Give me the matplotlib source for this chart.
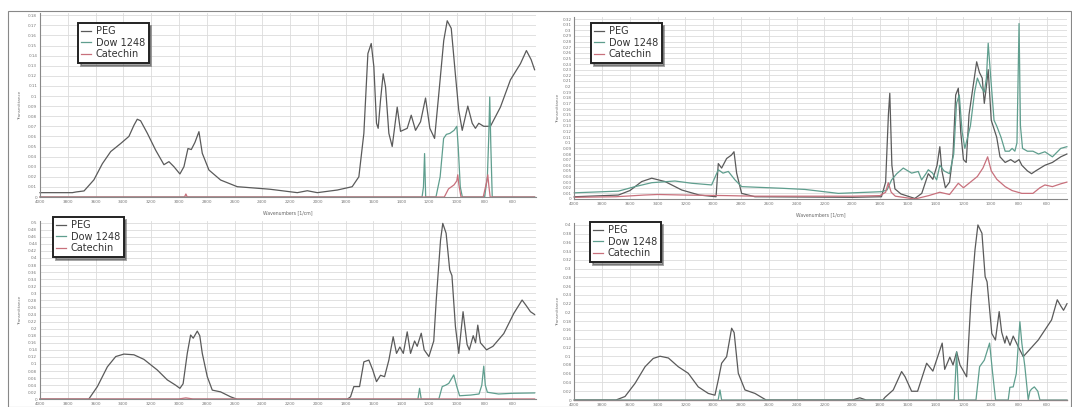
import matplotlib
matplotlib.use("Agg")
import matplotlib.pyplot as plt
from matplotlib.patches import Rectangle
from matplotlib.ticker import MultipleLocator, FuncFormatter

# ---------------- data ----------------
series_names = ["PEG", "Dow 1248", "Catechin"]

# top-left panel
tl_peg_wn = [4000, 3767, 3740, 3683, 3612, 3551, 3491, 3419, 3360, 3324, 3300, 3276, 3227, 3168, 3108, 3072, 3036, 2993, 2964, 2935,
             2911, 2885, 2856, 2832, 2784, 2700, 2580, 2364, 2340, 2148, 2076, 2004, 1860, 1753, 1705, 1669, 1640, 1616, 1597, 1578,
             1566, 1549, 1530, 1513, 1489, 1465, 1429, 1405, 1357, 1328, 1297, 1261, 1225, 1194, 1160, 1129, 1094, 1069, 1040, 1010,
             986, 961, 921, 889, 866, 842, 806, 758, 686, 614, 542, 499, 465, 440]
tl_peg_t = [0.0043, 0.0043, 0.005, 0.006, 0.017, 0.033, 0.045, 0.053, 0.060, 0.071, 0.077, 0.0755, 0.063, 0.0465, 0.032, 0.035, 0.030, 0.0228, 0.030, 0.048,
            0.047, 0.054, 0.0647, 0.0433, 0.0267, 0.0168, 0.0102, 0.0079, 0.0076, 0.0043, 0.0062, 0.0043, 0.0069, 0.0102, 0.020, 0.063, 0.142, 0.152, 0.129, 0.073,
            0.068, 0.096, 0.122, 0.109, 0.063, 0.050, 0.089, 0.065, 0.068, 0.081, 0.066, 0.0745, 0.098, 0.068, 0.058, 0.103, 0.155, 0.1745, 0.167, 0.121,
            0.086, 0.066, 0.090, 0.073, 0.068, 0.073, 0.070, 0.070, 0.089, 0.116, 0.132, 0.145, 0.136, 0.126]
tl_dow_wn = [4000, 1250, 1240, 1232, 1224, 1150, 1120, 1095, 1075, 1050, 1020, 1000, 990, 975, 960, 800, 780, 770, 763, 755, 745, 440]
tl_dow_t = [0, 0, 0.01, 0.043, 0, 0, 0.02, 0.058, 0.062, 0.063, 0.066, 0.07, 0.05, 0.01, 0, 0, 0.02, 0.06, 0.099, 0.05, 0, 0]
tl_cat_wn = [4000, 2960, 2950, 2940, 1090, 1060, 1040, 1020, 1000, 993, 985, 970, 810, 800, 785, 777, 770, 760, 440]
tl_cat_t = [0, 0, 0.003, 0, 0, 0.008, 0.01, 0.012, 0.016, 0.022, 0.012, 0, 0, 0.006, 0.015, 0.022, 0.012, 0, 0]

# top-right panel
tr_peg_wn = [4000, 3683, 3600, 3515, 3443, 3347, 3227, 3100, 2980, 2964, 2940, 2904, 2870, 2851, 2832, 2796, 2700, 2000, 1790, 1760,
             1740, 1730, 1715, 1693, 1650, 1550, 1500, 1453, 1420, 1390, 1370, 1355, 1330, 1300, 1275, 1256, 1237, 1220, 1200, 1180,
             1160, 1125, 1105, 1085, 1065, 1050, 1035, 1022, 1000, 961, 937, 900, 860, 830, 800, 780, 740, 710, 680, 614,
             560, 500, 456]
tr_peg_t = [0.004, 0.007, 0.015, 0.031, 0.037, 0.031, 0.016, 0.007, 0.004, 0.063, 0.055, 0.072, 0.078, 0.084, 0.046, 0.010, 0.004, 0.003, 0.004, 0.03,
            0.15, 0.188, 0.06, 0.018, 0.009, 0.001, 0.01, 0.045, 0.035, 0.06, 0.093, 0.05, 0.02, 0.03, 0.08, 0.185, 0.197, 0.12, 0.07, 0.065,
            0.15, 0.21, 0.244, 0.225, 0.215, 0.17, 0.2, 0.23, 0.14, 0.11, 0.075, 0.065, 0.07, 0.065, 0.07, 0.06, 0.05, 0.045, 0.05, 0.06,
            0.065, 0.075, 0.08]
tr_dow_wn = [4000, 3683, 3563, 3443, 3276, 3155, 3012, 2964, 2930, 2892, 2844, 2796, 2500, 2340, 2100, 1789, 1750, 1717, 1680, 1633,
             1573, 1525, 1501, 1470, 1453, 1422, 1393, 1370, 1340, 1300, 1270, 1250, 1230, 1210, 1190, 1150, 1120, 1100, 1075, 1050,
             1035, 1022, 1005, 980, 961, 930, 900, 870, 850, 830, 815, 800, 790, 775, 740, 700, 660, 614, 560, 520,
             500, 456]
tr_dow_t = [0.011, 0.014, 0.022, 0.029, 0.032, 0.028, 0.025, 0.052, 0.046, 0.049, 0.034, 0.022, 0.019, 0.017, 0.010, 0.013, 0.016, 0.034, 0.045, 0.055,
            0.046, 0.049, 0.034, 0.045, 0.052, 0.046, 0.034, 0.06, 0.05, 0.045, 0.08, 0.17, 0.185, 0.12, 0.09, 0.13, 0.19, 0.215, 0.2, 0.19,
            0.215, 0.277, 0.22, 0.14, 0.13, 0.11, 0.085, 0.085, 0.09, 0.085, 0.1, 0.312, 0.13, 0.09, 0.085, 0.085, 0.08, 0.084, 0.075, 0.085,
            0.09, 0.093]
tr_cat_wn = [4000, 3700, 3500, 3400, 3200, 2900, 2700, 2000, 1800, 1760, 1741, 1720, 1690, 1550, 1450, 1370, 1300, 1237, 1200, 1150,
             1100, 1060, 1026, 1000, 960, 900, 850, 780, 700, 650, 614, 560, 500, 456]
tr_cat_t = [0.003, 0.004, 0.007, 0.008, 0.007, 0.006, 0.005, 0.005, 0.006, 0.012, 0.029, 0.012, 0.005, 0.0, 0.006, 0.012, 0.008, 0.028, 0.02, 0.03,
            0.04, 0.055, 0.075, 0.05, 0.035, 0.022, 0.015, 0.01, 0.01, 0.02, 0.025, 0.022, 0.027, 0.03]

# bottom-left panel
bl_peg_wn = [4000, 3650, 3587, 3515, 3455, 3396, 3324, 3252, 3156, 3084, 3024, 2993, 2970, 2940, 2916, 2897, 2868, 2850, 2832, 2796,
             2760, 2700, 2628, 2580, 1790, 1765, 1741, 1700, 1669, 1633, 1605, 1578, 1549, 1520, 1489, 1458, 1434, 1410, 1385, 1357,
             1333, 1304, 1285, 1256, 1235, 1201, 1166, 1148, 1117, 1101, 1077, 1051, 1035, 1010, 986, 955, 926, 910, 882, 865,
             849, 830, 786, 740, 662, 590, 530, 500, 470, 440]
bl_peg_t = [0.0, 0.0, 0.036, 0.092, 0.121, 0.128, 0.126, 0.113, 0.083, 0.055, 0.040, 0.031, 0.044, 0.130, 0.182, 0.173, 0.193, 0.18, 0.130, 0.064,
            0.026, 0.021, 0.007, 0.0, 0.0, 0.007, 0.036, 0.036, 0.106, 0.111, 0.083, 0.050, 0.068, 0.064, 0.111, 0.177, 0.13, 0.148, 0.13, 0.191,
            0.13, 0.165, 0.15, 0.187, 0.14, 0.121, 0.165, 0.281, 0.451, 0.498, 0.47, 0.366, 0.35, 0.206, 0.13, 0.248, 0.155, 0.14, 0.18, 0.16,
            0.21, 0.16, 0.14, 0.15, 0.186, 0.243, 0.281, 0.265, 0.248, 0.24]
bl_dow_wn = [4000, 1280, 1268, 1256, 1130, 1105, 1080, 1058, 1022, 1000, 980, 900, 840, 820, 806, 795, 780, 700, 600, 440]
bl_dow_t = [0.0, 0.0, 0.031, 0.0, 0.0, 0.036, 0.04, 0.045, 0.069, 0.036, 0.01, 0.012, 0.015, 0.04, 0.094, 0.04, 0.02, 0.015, 0.017, 0.018]
bl_cat_wn = [4000, 3000, 2950, 2900, 440]
bl_cat_t = [0.001, 0.001, 0.004, 0.001, 0.001]

# bottom-right panel
br_peg_wn = [4000, 3700, 3635, 3563, 3491, 3432, 3383, 3323, 3252, 3180, 3108, 3036, 2988, 2964, 2940, 2904, 2868, 2850, 2820, 2772,
             2700, 2620, 2000, 1946, 1900, 1780, 1765, 1705, 1645, 1620, 1573, 1530, 1465, 1420, 1353, 1335, 1298, 1275, 1249, 1225,
             1177, 1146, 1117, 1096, 1067, 1044, 1030, 996, 970, 943, 925, 902, 890, 865, 842, 806, 770, 662, 566, 525,
             500, 480, 455]
br_peg_t = [0.0, 0.0, 0.008, 0.038, 0.076, 0.095, 0.10, 0.096, 0.076, 0.061, 0.030, 0.015, 0.011, 0.046, 0.084, 0.099, 0.164, 0.154, 0.061, 0.023,
            0.015, 0.0, 0.0, 0.005, 0.0, 0.0, 0.006, 0.023, 0.065, 0.053, 0.02, 0.02, 0.084, 0.066, 0.13, 0.07, 0.098, 0.08, 0.11, 0.08,
            0.053, 0.229, 0.343, 0.40, 0.381, 0.282, 0.27, 0.152, 0.137, 0.202, 0.155, 0.13, 0.146, 0.125, 0.146, 0.122, 0.099, 0.137, 0.183, 0.229,
            0.215, 0.205, 0.22]
br_dow_wn = [4000, 2965, 2952, 2940, 1275, 1266, 1249, 1235, 1110, 1084, 1050, 1012, 990, 969, 878, 866, 842, 820, 794, 780,
             758, 734, 722, 710, 690, 665, 650, 455]
br_dow_t = [0.0, 0.0, 0.023, 0.0, 0.0, 0.0, 0.11, 0.0, 0.0, 0.076, 0.091, 0.13, 0.061, 0.0, 0.0, 0.029, 0.03, 0.06, 0.179, 0.13,
            0.076, 0.0, 0.02, 0.025, 0.03, 0.02, 0.0, 0.0]
br_cat_wn = [4000, 455]
br_cat_t = [0.0, 0.0]

xtick_step = 200

# ---------------- styling ----------------
W, H = 1072, 407
colors = ["#5a5a5a", "#5f9e8e", "#c8707c"]
grid_c = "#dcdcdc"

fig = plt.figure(figsize=(W / 100, H / 100), dpi=100)
fig.patch.set_facecolor("white")


def px_axes(x0, y_top, x1, y_bot):
    return [x0 / W, 1 - y_bot / H, (x1 - x0) / W, (y_bot - y_top) / H]


def fmt(v, pos):
    s = f"{v:.2f}".rstrip("0").rstrip(".")
    return s if s not in ("-0",) else "0"


panels = [
    dict(rect=px_axes(40, 13.2, 536, 197), ylim=(0, 0.182), ystep=0.01, xr=430,
         data=[(tl_peg_wn, tl_peg_t), (tl_dow_wn, tl_dow_t), (tl_cat_wn, tl_cat_t)],
         leg=(78, 23), xlabel=True, ylab_x=-0.036),
    dict(rect=px_axes(574.3, 16.8, 1067, 199), ylim=(0, 0.324), ystep=0.01, xr=455,
         data=[(tr_peg_wn, tr_peg_t), (tr_dow_wn, tr_dow_t), (tr_cat_wn, tr_cat_t)],
         leg=(591, 23), xlabel=True, ylab_x=-0.029),
    dict(rect=px_axes(40, 220.9, 536, 399.3), ylim=(0, 0.505), ystep=0.02, xr=430,
         data=[(bl_peg_wn, bl_peg_t), (bl_dow_wn, bl_dow_t), (bl_cat_wn, bl_cat_t)],
         leg=(53, 217), xlabel=False, ylab_x=-0.036),
    dict(rect=px_axes(574.3, 223.2, 1067, 400), ylim=(0, 0.404), ystep=0.02, xr=455,
         data=[(br_peg_wn, br_peg_t), (br_dow_wn, br_dow_t), (br_cat_wn, br_cat_t)],
         leg=(590, 222), xlabel=False, ylab_x=-0.029),
]

for p in panels:
    ax = fig.add_axes(p["rect"])
    ax.set_xlim(4000, p["xr"])
    ax.set_ylim(*p["ylim"])
    ax.xaxis.set_major_locator(MultipleLocator(xtick_step))
    ax.yaxis.set_major_locator(MultipleLocator(p["ystep"]))
    ax.yaxis.set_major_formatter(FuncFormatter(fmt))
    ax.xaxis.set_major_formatter(FuncFormatter(lambda v, pos: f"{int(round(v))}"))
    ax.grid(True, color=grid_c, lw=0.6)
    ax.set_axisbelow(True)
    ax.tick_params(axis="both", length=0, labelsize=3, colors="#777777", pad=2)
    for s in ["top", "right"]:
        ax.spines[s].set_visible(False)
    ax.spines["left"].set_color("#888888")
    ax.spines["bottom"].set_color("#888888")
    ax.spines["left"].set_linewidth(0.8)
    ax.spines["bottom"].set_linewidth(0.8)
    handles = []
    for (wn, t), c, name in zip(p["data"], colors, series_names):
        h, = ax.plot(wn, t, color=c, lw=0.9, label=name, clip_on=False)
        handles.append(h)
    ax.set_ylabel("Transmittance", fontsize=3, color="#777777")
    ax.yaxis.set_label_coords(p["ylab_x"], 0.5)
    if p["xlabel"]:
        ax.set_xlabel("Wavenumbers [1/cm]", fontsize=3.3, color="#666666")
        ax.xaxis.set_label_coords(0.5, -0.075)
    lx, ly = p["leg"]
    leg = ax.legend(handles=handles, loc="upper left",
                    bbox_to_anchor=(lx / W, 1 - ly / H), bbox_transform=fig.transFigure,
                    fontsize=7, frameon=True, fancybox=False, shadow=True,
                    handlelength=1.0, handletextpad=0.5, labelspacing=0.15,
                    borderpad=0.35, borderaxespad=0)
    fr = leg.get_frame()
    fr.set_edgecolor("#222222")
    fr.set_linewidth(1.4)
    for txt in leg.get_texts():
        txt.set_color("#333333")

# outer frame
fig.add_artist(Rectangle((8 / W, 0), (W - 9) / W, 1 - 11 / H, transform=fig.transFigure,
                         fill=False, edgecolor="#888888", lw=0.8))

fig.savefig("out.png", dpi=100, facecolor="white")
